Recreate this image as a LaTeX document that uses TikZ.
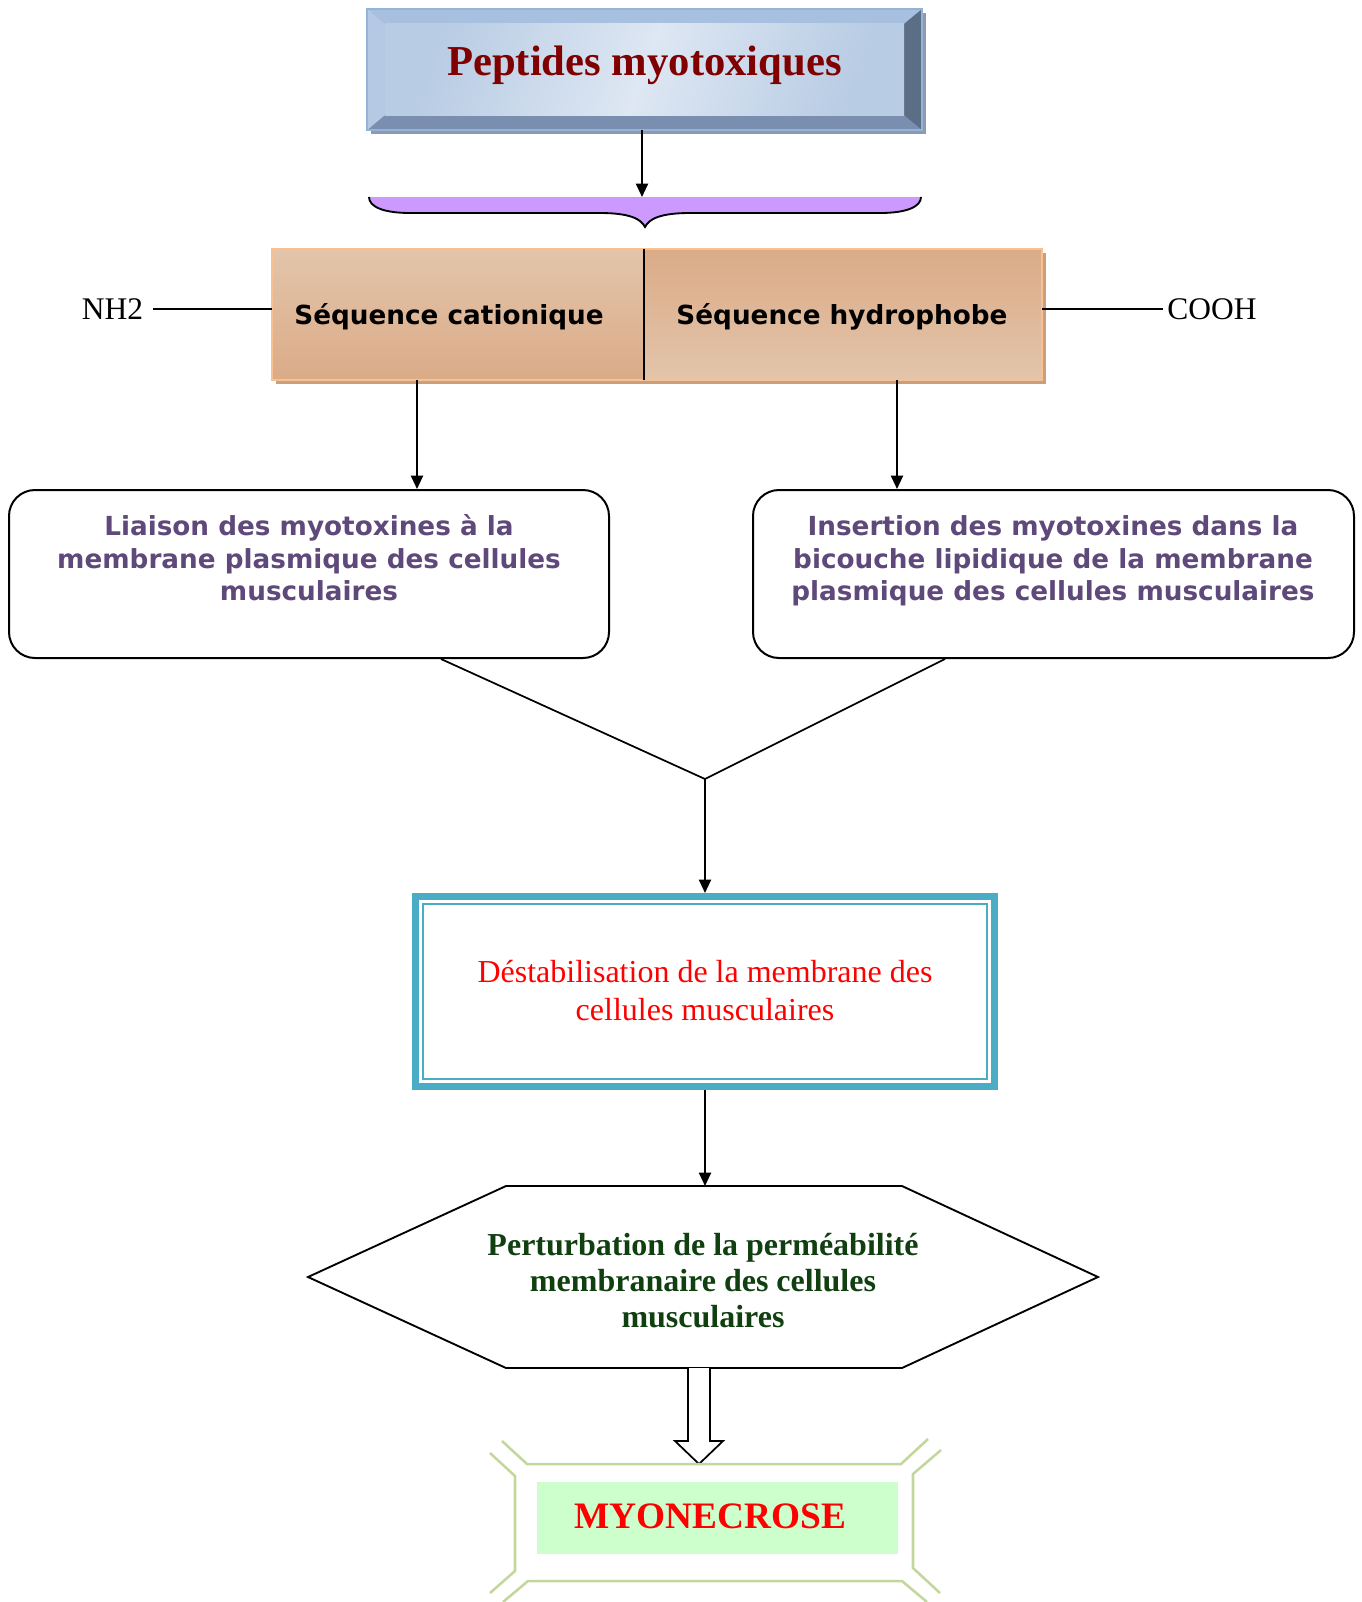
\documentclass[tikz,border=0pt]{standalone}
\usepackage{fontspec}
\setmainfont{Liberation Serif}
\newfontfamily\verd{DejaVu Sans}
\usetikzlibrary{arrows.meta,calc}
\definecolor{pepred}{RGB}{128,0,0}
\definecolor{bevT}{RGB}{168,192,223}
\definecolor{bevL}{RGB}{182,201,228}
\definecolor{bevR}{RGB}{91,110,134}
\definecolor{bevB}{RGB}{122,143,176}
\definecolor{bevShadow}{RGB}{140,155,178}
\definecolor{bevBorder}{RGB}{149,179,215}
\definecolor{faceA}{RGB}{222,231,243}
\definecolor{faceB}{RGB}{184,204,228}
\definecolor{bracefill}{RGB}{204,153,255}
\definecolor{seqA}{RGB}{227,197,171}
\definecolor{seqB}{RGB}{219,171,135}
\definecolor{seqBorder}{RGB}{250,192,144}
\definecolor{seqShadow}{RGB}{200,160,128}
\definecolor{txtpurple}{RGB}{95,73,122}
\definecolor{tealB}{RGB}{75,172,198}
\definecolor{hexgreen}{RGB}{16,64,16}
\definecolor{frameg}{RGB}{195,214,155}
\definecolor{myofill}{RGB}{204,255,204}
\begin{document}
\begin{tikzpicture}[x=0.75pt,y=-0.75pt,
  arr/.style={line width=1.5pt,-{Triangle[length=10pt,width=9pt]}},
  ln/.style={line width=1.3pt},
  anchorbox/.style={inner sep=0pt,outer sep=0pt},
  peptxt/.style={font=\bfseries\fontsize{32pt}{38pt}\selectfont,text=pepred,inner sep=0pt},
  seqtxt/.style={font=\verd\bfseries\fontsize{19.7pt}{24pt}\selectfont,inner sep=0pt},
  endtxt/.style={font=\fontsize{23.6pt}{28pt}\selectfont,inner ysep=0pt},
  purpletxt/.style={font=\verd\bfseries\fontsize{19.7pt}{24.4pt}\selectfont,text=txtpurple,align=center,inner sep=0pt},
  roundbox/.style={draw,line width=1.5pt,rounded corners=19.5pt,minimum height=126pt,inner sep=0pt},
  desttxt/.style={font=\fontsize{24pt}{28.5pt}\selectfont,text=red,align=center,inner sep=0pt},
  hextxt/.style={font=\bfseries\fontsize{24pt}{27pt}\selectfont,text=hexgreen,align=center,inner sep=0pt},
  myotxt/.style={font=\bfseries\fontsize{28pt}{32pt}\selectfont,text=red,inner sep=0pt},
  framel/.style={draw=frameg,line width=1.9pt}
]
\useasboundingbox (0,0) rectangle (1362,1602);

% --- top bevelled box
\fill[bevShadow] (371,13) rectangle (926,134);
\fill[bevT] (367,9) -- (922,9) -- (904,24) -- (385,24) -- cycle;
\fill[bevB] (367,130) -- (922,130) -- (904,115) -- (385,115) -- cycle;
\fill[bevL] (367,9) -- (385,24) -- (385,115) -- (367,130) -- cycle;
\fill[bevR] (922,9) -- (904,24) -- (904,115) -- (922,130) -- cycle;
\shade[left color=faceB,right color=faceB,middle color=faceA,shading angle=70] (385,24) rectangle (904,115);
\node[anchorbox,draw=bevBorder,line width=0.8pt,minimum width=555*0.75pt,minimum height=121*0.75pt] (pep) at (644.5,69.5) {};
\node[peptxt] (pepT) at (644.5,65) {Peptides myotoxiques};

% --- brace
\fill[bracefill] (369,197) -- (921,197) .. controls (921,207) and (906,213) .. (880,213) -- (690,213) .. controls (660,213) and (649,219) .. (645,227) .. controls (641,219) and (630,213) .. (600,213) -- (410,213) .. controls (384,213) and (369,207) .. (369,197) -- cycle;
\draw[line width=1.4pt] (921,197) .. controls (921,207) and (906,213) .. (880,213) -- (690,213) .. controls (660,213) and (649,219) .. (645,227) .. controls (641,219) and (630,213) .. (600,213) -- (410,213) .. controls (384,213) and (369,207) .. (369,197);
\coordinate (braceTop) at (642,197);
\draw[arr] (pep.south -| braceTop) -- (braceTop);

% --- sequence box
\fill[seqShadow] (276,253) rectangle (1046,384);
\node[anchorbox,minimum width=372*0.75pt,minimum height=131*0.75pt] (cat) at (458,314.5) {};
\node[anchorbox,minimum width=398*0.75pt,minimum height=131*0.75pt] (hyd) at (843,314.5) {};
\shade[top color=seqA,bottom color=seqB] (cat.north west) rectangle (cat.south east);
\shade[top color=seqB,bottom color=seqA] (hyd.north west) rectangle (hyd.south east);
\draw[seqBorder,line width=1.5pt] (cat.north west) rectangle (hyd.south east);
\draw[ln] (cat.north east) -- (cat.south east);
\node[seqtxt] (catT) at (449,317) {Séquence cationique};
\node[seqtxt] (hydT) at (842,317) {Séquence hydrophobe};

\node[endtxt,inner xsep=7.5pt] (nh) at (112.5,309) {NH2};
\draw[ln] (nh.east) -- (nh.east -| cat.west);
\node[endtxt,inner xsep=3pt] (cooh) at (1212,309) {COOH};
\draw[ln] (cooh.west -| hyd.east) -- (cooh.west);

% --- rounded boxes
\node[roundbox,minimum width=600*0.75pt] (liaison) at (309,574) {};
\node[roundbox,minimum width=601*0.75pt] (insertion) at (1053.5,574) {};
\node[purpletxt] (liaisonT) at (309,558) {Liaison des myotoxines à la\\membrane plasmique des cellules\\musculaires};
\node[purpletxt] (insertT) at (1053,561) {Insertion des myotoxines dans la\\bicouche lipidique de la membrane\\plasmique des cellules musculaires};

\coordinate (xa) at (417,0);
\coordinate (xb) at (897,0);
\draw[arr] (cat.south -| xa) -- (liaison.north -| xa);
\draw[arr] (hyd.south -| xb) -- (insertion.north -| xb);

% --- destabilisation box
\node[draw=tealB,line width=5.25pt,minimum width=579*0.75pt,minimum height=190*0.75pt,inner sep=0pt] (dest) at (705,991.5) {};
\draw[tealB,line width=1.5pt] ($(dest.north west)+(11,11)$) rectangle ($(dest.south east)+(-11,-11)$);
\node[desttxt] (destT) at (705,990.5) {Déstabilisation de la membrane des\\cellules musculaires};

\coordinate (jn) at (705,779);
\draw[ln] ($(liaison.south)+(132,0)$) -- (jn) -- ($(insertion.south)+(-108.5,0)$);
\draw[arr] (jn) -- (jn |- dest.north);

% --- hexagon
\node[anchorbox,minimum width=790*0.75pt,minimum height=182*0.75pt] (hex) at (703,1277) {};
\draw[line width=1.4pt] (hex.west) -- ($(hex.north west)+(198,0)$) -- ($(hex.north east)+(-196,0)$) -- (hex.east) -- ($(hex.south east)+(-196,0)$) -- ($(hex.south west)+(198,0)$) -- cycle;
\node[hextxt] (hexT) at (703,1280.5) {Perturbation de la perméabilité\\membranaire des cellules\\musculaires};
\draw[arr] (dest.south) -- (dest.south |- hex.north);

% --- hollow arrow
\draw[line width=1.3pt,fill=white] ($(hex.south)+(-15,0)$) -- ($(hex.south)+(-15,73)$) -- ($(hex.south)+(-28,73)$) -- ($(hex.south)+(-4,96)$) -- ($(hex.south)+(20,73)$) -- ($(hex.south)+(7,73)$) -- ($(hex.south)+(7,0)$);

% --- MYONECROSE frame
\draw[framel] (502,1441) -- (527,1464) -- (901,1464) -- (928,1439);
\draw[framel] (490,1453) -- (515,1476) -- (515,1571) -- (490,1593);
\draw[framel] (941,1450) -- (913,1474) -- (913,1568) -- (940,1593);
\draw[framel] (503,1602) -- (528,1581) -- (902,1581) -- (927,1602);
\node[anchorbox,fill=myofill,minimum width=361*0.75pt,minimum height=72*0.75pt] (myo) at (717.5,1518) {};
\node[myotxt] (myoT) at (710.5,1516) {MYONECROSE};
\end{tikzpicture}
\end{document}
